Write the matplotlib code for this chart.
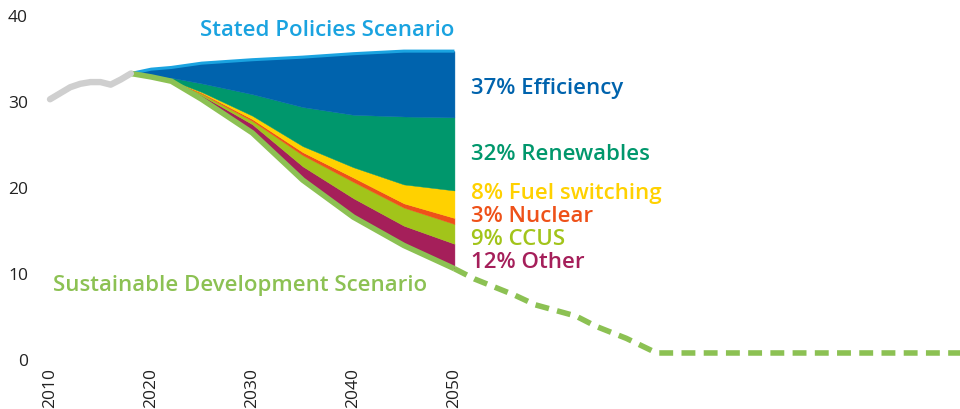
import matplotlib
matplotlib.use("Agg")
import matplotlib.pyplot as plt
import numpy as np

plt.rcParams['font.family'] = ['Open Sans', 'DejaVu Sans']

# ---------------- data ----------------
hist_years = [2010, 2011, 2012, 2013, 2014, 2015, 2016, 2017, 2018]
hist_co2 = [30.2, 30.9, 31.6, 32.0, 32.2, 32.2, 31.9, 32.5, 33.2]

proj_years = [2018, 2020, 2022, 2025, 2030, 2035, 2040, 2045, 2050]
sds = [33.2, 32.8, 32.3, 30.2, 26.3, 20.8, 16.5, 13.2, 10.5]
other = [0.0, 0.0, 0.05, 0.45, 1.0, 1.6, 2.2, 2.3, 2.9]
ccus = [0.0, 0.0, 0.02, 0.2, 0.4, 1.3, 1.9, 2.1, 2.3]
nuclear = [0.0, 0.0, 0.02, 0.1, 0.2, 0.35, 0.5, 0.5, 0.7]
fuel_switching = [0.0, 0.0, 0.01, 0.1, 0.4, 0.7, 1.2, 2.2, 3.2]
renewables = [0.0, 0.05, 0.3, 1.0, 2.5, 4.55, 6.1, 7.9, 8.5]
efficiency = [0.0, 0.85, 1.2, 2.35, 4.0, 5.8, 7.1, 7.6, 7.7]

ext_years = [2050, 2052, 2056, 2058, 2062, 2064, 2067, 2070, 2100]
ext_sds = [10.5, 9.3, 7.4, 6.3, 5.0, 3.8, 2.4, 0.7, 0.7]

wedge_names = ["12% Other", "9% CCUS", "3% Nuclear", "8% Fuel switching",
               "32% Renewables", "37% Efficiency"]
wedge_values = [other, ccus, nuclear, fuel_switching, renewables, efficiency]
wedge_colors = ["#a51f5a", "#a2c41a", "#ee5119", "#ffd100", "#00976c", "#0063ad"]

y_ticks = [0, 10, 20, 30, 40]
x_ticks = [2010, 2020, 2030, 2040, 2050]

# ---------------- figure ----------------
W, H = 960, 410
fig = plt.figure(figsize=(W / 100, H / 100), dpi=100)
ax = fig.add_axes([40 / W, 50 / H, 920 / W, 344 / H])
ax.set_xlim(2009.01, 2100)
ax.set_ylim(0, 40)

x = np.array(proj_years, dtype=float)
base = np.array(sds, dtype=float)
for vals, col in zip(wedge_values, wedge_colors):
    top = base + np.array(vals)
    ax.fill_between(x, base, top, color=col, linewidth=0.3, edgecolor=col, zorder=2)
    base = top

steps_col = "#1aa3e0"
sds_col = "#8cc153"
ax.plot(x, base, color=steps_col, lw=2.2, zorder=3, solid_capstyle='butt')
ax.plot(proj_years, sds, color=sds_col, lw=4.0, zorder=4, solid_joinstyle='round',
        solid_capstyle='butt')
ax.plot(ext_years, ext_sds, color=sds_col, lw=4.0, dashes=(2.5, 1.5), zorder=4,
        dash_capstyle='butt', clip_on=False)
ax.plot(hist_years, hist_co2, color="#cfcfcf", lw=4.6, zorder=5,
        solid_capstyle='round', solid_joinstyle='round')

# labels
fs = 16
fw = 'semibold'
ax.text(2050, 37.7, "Stated Policies Scenario", color=steps_col, fontsize=fs,
        fontweight=fw, ha='right', va='baseline')
ax.text(2010.3, 8.0, "Sustainable Development Scenario", color=sds_col, fontsize=fs,
        fontweight=fw, ha='left', va='baseline')
label_y = [10.7, 13.4, 16.1, 18.7, 23.3, 30.9]
for name, col, yy in zip(wedge_names, wedge_colors, label_y):
    ax.text(2051.6, yy, name, color=col, fontsize=fs, fontweight=fw,
            ha='left', va='baseline')

# axes styling
for s in ax.spines.values():
    s.set_visible(False)
ax.set_yticks(y_ticks)
ax.set_yticklabels([str(t) for t in y_ticks])
ax.set_xticks(x_ticks)
ax.set_xticklabels([str(t) for t in x_ticks], rotation=90)
ax.tick_params(axis='y', length=0, pad=8.6, labelsize=12.5, labelcolor="#222222")
ax.tick_params(axis='x', length=0, pad=5.8, labelsize=12.5, labelcolor="#222222")

fig.savefig("out.png", dpi=100)
